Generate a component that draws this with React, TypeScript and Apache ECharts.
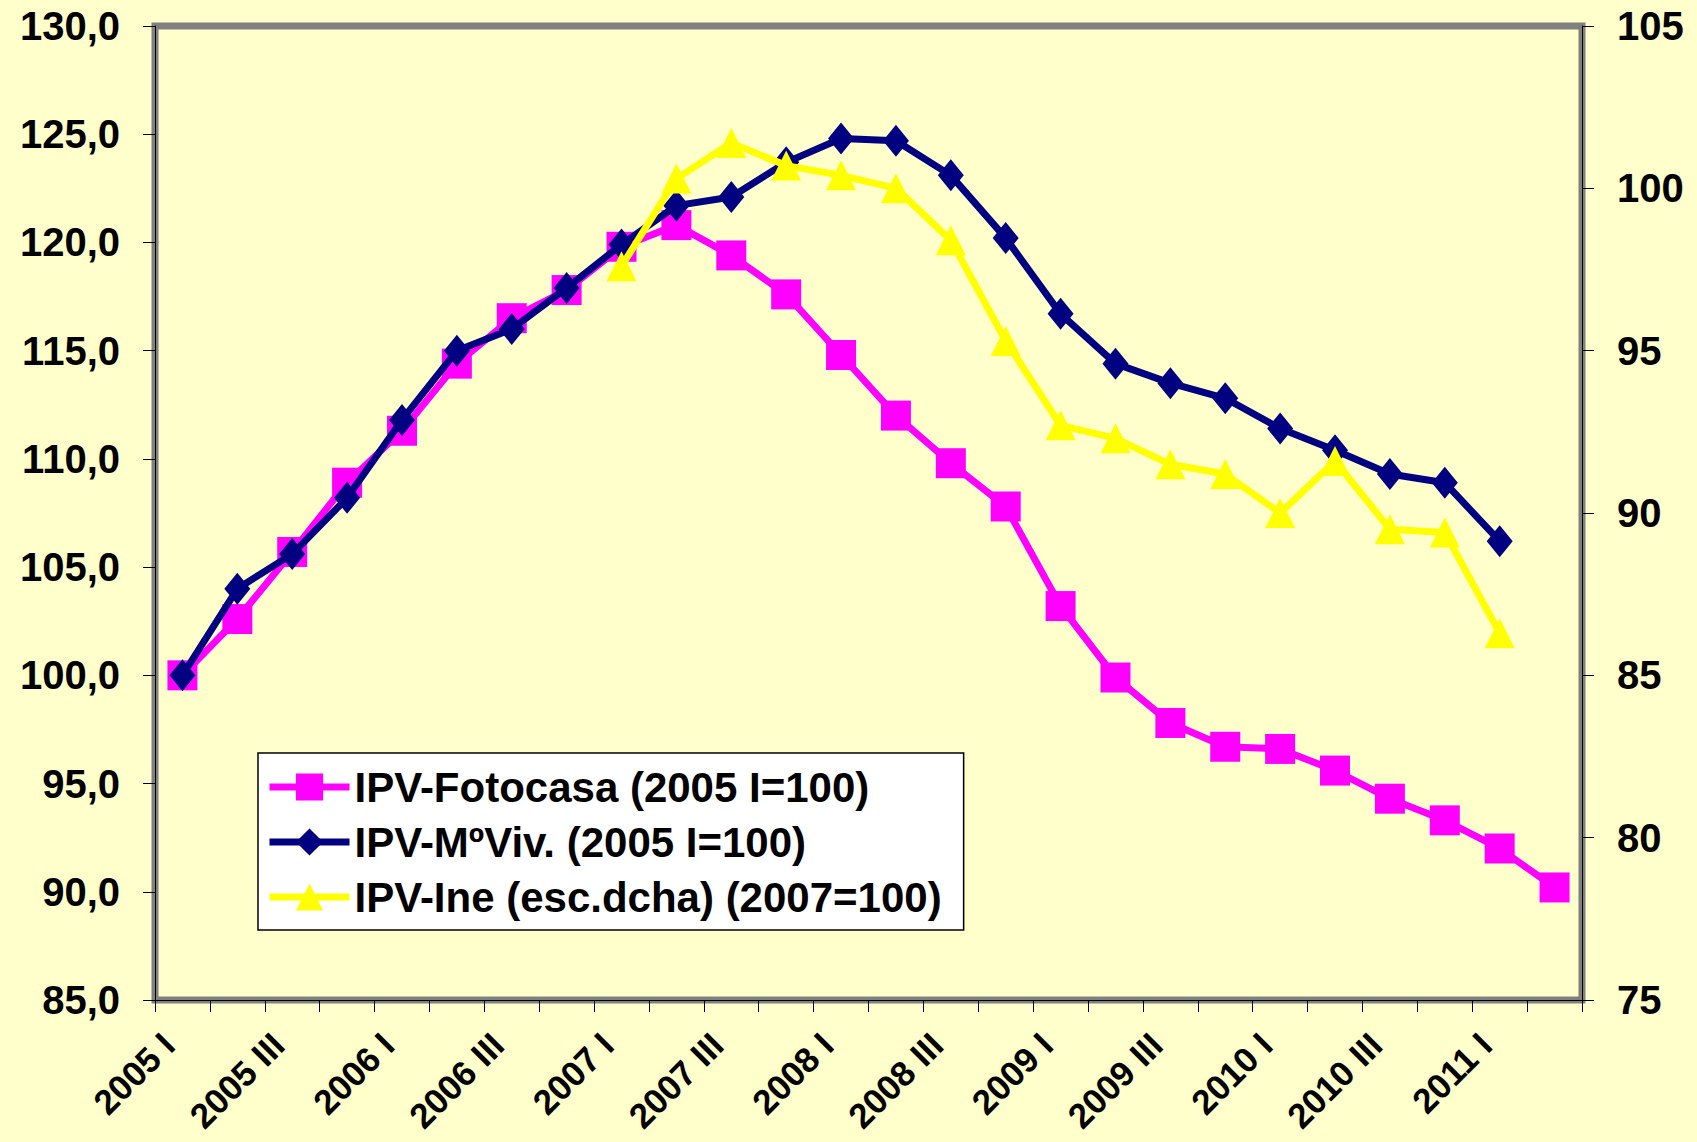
import React, { useEffect, useRef } from "react";
import * as echarts from "echarts";

const categories = [
  "2005 I", "2005 II", "2005 III", "2005 IV",
  "2006 I", "2006 II", "2006 III", "2006 IV",
  "2007 I", "2007 II", "2007 III", "2007 IV",
  "2008 I", "2008 II", "2008 III", "2008 IV",
  "2009 I", "2009 II", "2009 III", "2009 IV",
  "2010 I", "2010 II", "2010 III", "2010 IV",
  "2011 I", "2011 II",
];

const fotocasa = [
  100.0, 102.6, 105.7, 108.9, 111.3, 114.4, 116.5, 117.8,
  119.8, 120.8, 119.4, 117.6, 114.8, 112.0, 109.8, 107.8,
  103.2, 99.9, 97.8, 96.7, 96.6, 95.6, 94.3, 93.3, 92.0, 90.2,
];

const mviv = [
  100.0, 104.0, 105.6, 108.2, 111.8, 115.0, 116.0, 117.9,
  119.9, 121.7, 122.1, 123.7, 124.8, 124.7, 123.1, 120.2,
  116.7, 114.4, 113.5, 112.8, 111.4, 110.4, 109.3, 108.9, 106.2, null,
];

const ine = [
  null, null, null, null, null, null, null, null,
  97.6, 100.3, 101.4, 100.7, 100.4, 100.0, 98.4, 95.3,
  92.7, 92.3, 91.5, 91.2, 90.0, 91.6, 89.5, 89.4, 86.3, null,
];

const seriesNames = [
  "IPV-Fotocasa (2005 I=100)",
  "IPV-MºViv. (2005 I=100)",
  "IPV-Ine (esc.dcha) (2007=100)",
];

const FONT = "'Liberation Sans', Arial, sans-serif";

export default function App() {
  const ref = useRef<HTMLDivElement>(null);
  useEffect(() => {
    if (!ref.current) return;
    const chart = echarts.init(ref.current, null, { renderer: "svg" });
    chart.setOption({
      animation: false,
      backgroundColor: "#FFFFCC",
      textStyle: { fontFamily: FONT },
      grid: {
        left: 155,
        right: 115,
        top: 26,
        bottom: 142,
        outerBoundsMode: "none",
        containLabel: false,
        show: true,
        borderColor: "#808080",
        borderWidth: 7,
        backgroundColor: "#FFFFCC",
      },
      legend: {
        orient: "vertical",
        left: 258,
        top: 753,
        data: seriesNames,
        backgroundColor: "#FFFFFF",
        borderColor: "#000000",
        borderWidth: 1.5,
        padding: [8, 22, 7, 8],
        itemWidth: 80,
        itemHeight: 34,
        itemGap: 3,
        lineStyle: { width: 7 },
        textStyle: {
          fontFamily: FONT,
          fontSize: 42,
          fontWeight: "bold",
          color: "#000",
          lineHeight: 52,
        },
      },
      xAxis: {
        type: "category",
        data: categories,
        boundaryGap: true,
        axisLine: { lineStyle: { color: "#000", width: 1 } },
        axisTick: { show: true, interval: 0, length: 12, lineStyle: { color: "#000" } },
        axisLabel: {
          interval: 1,
          rotate: 45,
          fontFamily: FONT,
          fontSize: 35,
          fontWeight: "bold",
          color: "#000",
          margin: 25,
          padding: [0, 20, 0, 0],
        },
        splitLine: { show: false },
      },
      yAxis: [
        {
          type: "value",
          min: 85,
          max: 130,
          interval: 5,
          position: "left",
          axisLine: { show: true, lineStyle: { color: "#000", width: 1 } },
          axisTick: { show: true, length: 12, lineStyle: { color: "#000" } },
          axisLabel: {
            fontFamily: FONT,
            fontSize: 40,
            fontWeight: "bold",
            color: "#000",
            margin: 35,
            formatter: (v: number) => v.toFixed(1).replace(".", ","),
          },
          splitLine: { show: false },
        },
        {
          type: "value",
          min: 75,
          max: 105,
          interval: 5,
          position: "right",
          axisLine: { show: true, lineStyle: { color: "#000", width: 1 } },
          axisTick: { show: true, length: 12, lineStyle: { color: "#000" } },
          axisLabel: {
            fontFamily: FONT,
            fontSize: 40,
            fontWeight: "bold",
            color: "#000",
            margin: 35,
          },
          splitLine: { show: false },
        },
      ],
      series: [
        {
          name: seriesNames[0],
          type: "line",
          yAxisIndex: 0,
          data: fotocasa,
          symbol: "rect",
          symbolSize: 30,
          lineStyle: { color: "#FF00FF", width: 7 },
          itemStyle: { color: "#FF00FF" },
          z: 2,
        },
        {
          name: seriesNames[1],
          type: "line",
          yAxisIndex: 0,
          data: mviv,
          symbol: "diamond",
          symbolSize: [26, 32],
          lineStyle: { color: "#000080", width: 7 },
          itemStyle: { color: "#000080" },
          z: 3,
        },
        {
          name: seriesNames[2],
          type: "line",
          yAxisIndex: 1,
          data: ine,
          symbol: "triangle",
          symbolSize: 30,
          lineStyle: { color: "#FFFF00", width: 7 },
          itemStyle: { color: "#FFFF00" },
          z: 4,
        },
      ],
    });
    return () => chart.dispose();
  }, []);
  return (
    <div
      ref={ref}
      style={{ position: "fixed", left: 0, top: 0, width: 1697, height: 1142 }}
    />
  );
}
